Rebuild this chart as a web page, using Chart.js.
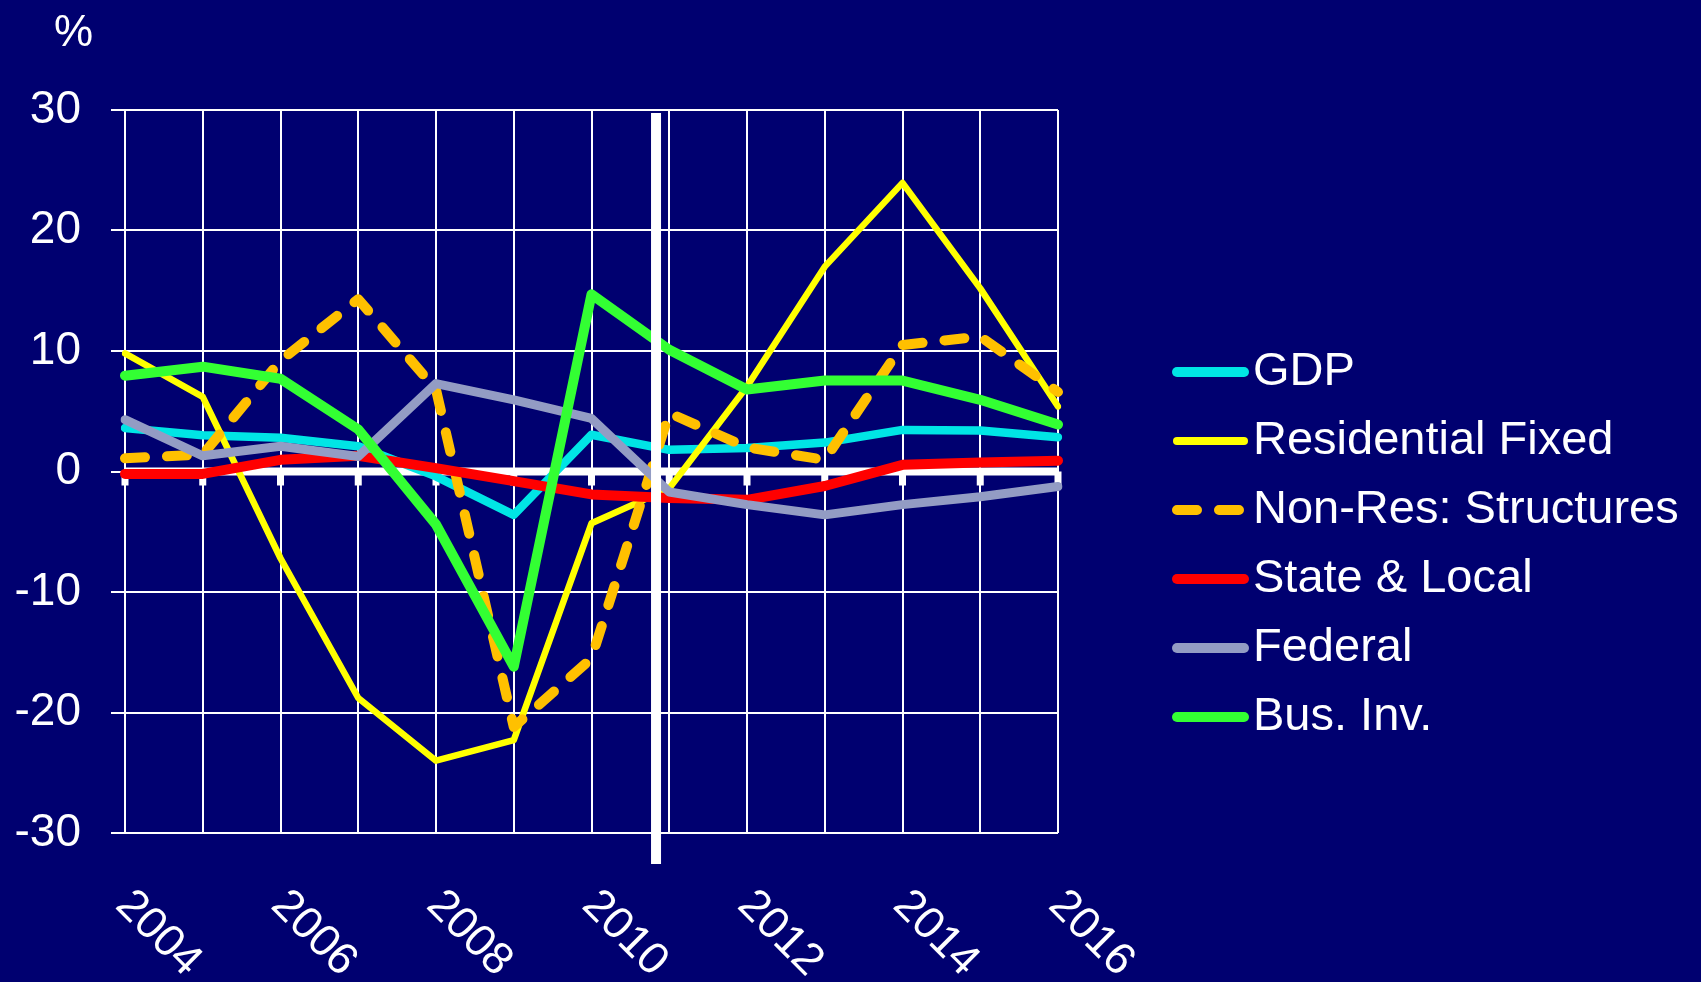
<!DOCTYPE html>
<html lang="en">
<head>
  <meta charset="UTF-8">
  <title>Growth of GDP components</title>
  <style>
    html, body {
      margin: 0;
      padding: 0;
      background: #000070;
      overflow: hidden;
    }
    #chart { display: block; }
  </style>
</head>
<body>
  <canvas id="chart" width="1701" height="982"></canvas>

  <script src="https://cdn.jsdelivr.net/npm/chart.js"></script>
  <script>
    // data (% change)
    const years = ['2004', '2005', '2006', '2007', '2008', '2009', '2010', '2011', '2012', '2013', '2014', '2015', '2016'];
    const shownYears = ['2004', '2006', '2008', '2010', '2012', '2014', '2016'];
    const yTicks = [-30, -20, -10, 0, 10, 20, 30];

    const gdp         = [3.6, 3.0, 2.8, 2.1, -0.4, -3.6, 3.05, 1.8, 1.95, 2.4, 3.45, 3.4, 2.85];
    const residential = [9.8, 6.2, -7.2, -18.8, -24.0, -22.3, -4.3, -1.4, 7.05, 17.0, 23.95, 15.2, 5.4];
    const nonResStruc = [1.1, 1.4, 9.2, 14.3, 6.8, -21.2, -15.5, 4.85, 2.0, 0.97, 10.5, 11.2, 6.6];
    const stateLocal  = [-0.2, -0.2, 0.97, 1.3, 0.28, -0.8, -1.9, -2.2, -2.35, -1.2, 0.55, 0.75, 0.9];
    const federal     = [4.3, 1.3, 2.1, 1.25, 7.3, 5.95, 4.4, -1.7, -2.75, -3.6, -2.75, -2.1, -1.25];
    const busInv      = [7.95, 8.7, 7.7, 3.5, -4.4, -16.2, 14.7, 10.1, 6.8, 7.55, 7.55, 5.95, 3.9];

    // forecast divider sits between 2010 and 2011 (category index)
    const dividerAt = 6.83;

    const FONT = "'Liberation Sans', Arial, sans-serif";

    const series = [
      { label: 'GDP', data: gdp, color: '#00E5E5', width: 8.5, dashed: false },
      { label: 'Residential Fixed', data: residential, color: '#FFFF00', width: 6.5, dashed: false },
      { label: 'Non-Res: Structures', data: nonResStruc, color: '#FFC000', width: 10, dashed: true },
      { label: 'State & Local', data: stateLocal, color: '#FF0000', width: 10, dashed: false },
      { label: 'Federal', data: federal, color: '#939CC4', width: 9, dashed: false },
      { label: 'Bus. Inv.', data: busInv, color: '#33FF33', width: 10, dashed: false }
    ];

    const decor = {
      id: 'decor',
      beforeDatasetsDraw(chart) {
        const { ctx, chartArea, scales: { x, y } } = chart;
        const y0 = y.getPixelForValue(0);
        ctx.save();
        ctx.fillStyle = '#ffffff';
        ctx.fillRect(chartArea.left, y0 - 4, chartArea.right - chartArea.left, 8);
        years.forEach((yr, i) => {
          const px = x.getPixelForValue(i);
          ctx.fillRect(px - 3.5, y0, 7, 14);
        });
        ctx.restore();
      },
      afterDatasetsDraw(chart) {
        const { ctx, chartArea, scales: { x } } = chart;
        const px = x.getPixelForValue(dividerAt);
        ctx.save();
        ctx.fillStyle = '#ffffff';
        ctx.fillRect(px - 5, chartArea.top + 3, 10, chartArea.bottom - chartArea.top + 28);
        ctx.restore();
      },
      afterDraw(chart) {
        const { ctx, chartArea, scales: { x } } = chart;
        ctx.save();
        ctx.fillStyle = '#ffffff';

        // unit
        ctx.font = '44px ' + FONT;
        ctx.textAlign = 'left';
        ctx.textBaseline = 'alphabetic';
        ctx.fillText('%', chartArea.left - 71, chartArea.top - 64);

        // slanted year labels
        ctx.font = '45px ' + FONT;
        years.forEach((yr, i) => {
          if (!shownYears.includes(yr)) return;
          const px = x.getPixelForValue(i);
          ctx.save();
          ctx.translate(px - 11, chartArea.bottom + 74);
          ctx.rotate(Math.PI / 4);
          ctx.fillText(yr, 0, 0);
          ctx.restore();
        });

        // legend
        const lx = chartArea.right + 115;
        const ly = chartArea.top + 262;
        ctx.font = '47px ' + FONT;
        ctx.textBaseline = 'middle';
        series.forEach((s, i) => {
          const ry = ly + i * 69;
          ctx.beginPath();
          ctx.strokeStyle = s.color;
          ctx.lineWidth = s.width < 8 ? 8 : 10;
          ctx.lineCap = 'round';
          ctx.setLineDash(s.dashed ? [20, 22] : []);
          ctx.moveTo(lx + 4, ry);
          ctx.lineTo(lx + 71, ry);
          ctx.stroke();
          ctx.setLineDash([]);
          ctx.fillText(s.label, lx + 80, ry);
        });
        ctx.restore();
      }
    };

    new Chart(document.getElementById('chart'), {
      type: 'line',
      data: {
        labels: years,
        datasets: series.map((s, i) => ({
          label: s.label,
          data: s.data,
          borderColor: s.color,
          backgroundColor: s.color,
          borderWidth: s.width,
          borderDash: s.dashed ? [20, 22] : [],
          borderCapStyle: 'round',
          borderJoinStyle: 'round',
          pointRadius: 0,
          tension: 0,
          order: series.length - i
        }))
      },
      options: {
        responsive: false,
        devicePixelRatio: 1,
        animation: false,
        layout: { padding: { top: 110, right: 643, bottom: 149, left: 0 } },
        plugins: {
          legend: { display: false },
          tooltip: { enabled: false }
        },
        scales: {
          x: {
            offset: false,
            grid: { color: '#ffffff', lineWidth: 2, drawTicks: false },
            border: { display: false },
            ticks: { display: false },
            afterFit(scale) { scale.height = 0; }
          },
          y: {
            min: yTicks[0],
            max: yTicks[yTicks.length - 1],
            afterBuildTicks(scale) { scale.ticks = yTicks.map(v => ({ value: v })); },
            grid: { color: '#ffffff', lineWidth: 2, tickLength: 14 },
            border: { display: false },
            ticks: {
              color: '#ffffff',
              padding: 30,
              font: { family: FONT, size: 46 }
            },
            afterFit(scale) { scale.width = 125; }
          }
        }
      },
      plugins: [decor]
    });
  </script>
</body>
</html>
